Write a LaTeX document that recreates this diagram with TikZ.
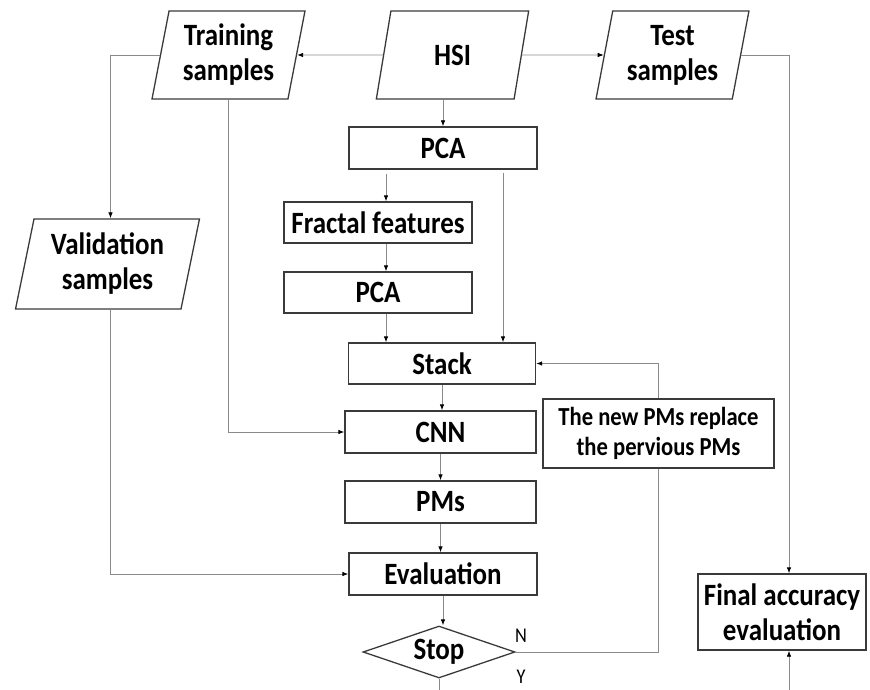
\documentclass[tikz,border=0pt]{standalone}
\usepackage{fontspec}
\setmainfont{Carlito}[FakeStretch=0.87]
\usetikzlibrary{shapes.geometric,arrows.meta}
\definecolor{boxc}{HTML}{3A3A3A}
\definecolor{linec}{HTML}{8A8A8A}
\begin{document}
\begin{tikzpicture}[x=1pt,y=-1pt,
  box/.style={draw=boxc, line width=1.3pt, rectangle, inner sep=0pt,
    font=\bfseries\fontsize{31}{35}\selectfont, align=center},
  para/.style={box, trapezium, trapezium left angle=78, trapezium right angle=102,
    trapezium stretches=true, minimum width=153pt, minimum height=88pt},
  conn/.style={draw=linec, line width=0.8pt},
  arr/.style={conn, -{Latex[length=6pt,width=4.5pt,color=black]}},
  lab/.style={inner sep=0pt, font=\fontsize{21}{22}\selectfont}
]
\useasboundingbox (0,0) rectangle (870,690);

\node[para] (train) at (228.5,55) {Training\\samples};
\node[para] (hsi) at (452.5,55) {HSI};
\node[para] (test) at (672.5,55) {Test\\samples};
\node[para, trapezium left angle=77, trapezium right angle=103,
      minimum width=184pt, minimum height=90pt] (val) at (107.5,264) {Validation\\samples};

\node[box, minimum width=188pt, minimum height=42pt] (pca1) at (443,148) {PCA};
\node[box, minimum width=188pt, minimum height=41pt] (frac) at (378,222.5) {Fractal features};
\node[box, minimum width=188pt, minimum height=41pt] (pca2) at (378,292.5) {PCA};
\node[box, minimum width=187pt, minimum height=41pt] (stack) at (442,363.5) {Stack};
\node[box, minimum width=191pt, minimum height=42pt] (cnn) at (440.5,432) {CNN};
\node[box, minimum width=191pt, minimum height=42pt] (pms) at (440.5,502) {PMs};
\node[box, minimum width=188pt, minimum height=42pt] (eval) at (443,574) {Evaluation};
\node[box, diamond, aspect=2.9, minimum width=152pt, minimum height=52pt] (stop) at (439,652) {Stop};
\node[box, minimum width=231pt, minimum height=69pt,
      font=\bfseries\fontsize{26}{30}\selectfont] (repl) at (658.5,433.5) {The new PMs replace\\the pervious PMs};
\node[box, minimum width=168pt, minimum height=76pt] (final) at (782,612) {Final accuracy\\evaluation};

\node[lab] (nlab) at (521,636) {N};
\node[lab] (ylab) at (521,677) {Y};

\coordinate (bot1) at (439,690);
\coordinate (bot2) at (789,690);

\draw[arr] (hsi.west) -- (train.east);
\draw[arr] (hsi.east) -- (test.west);
\draw[arr] (hsi.south -| pca1.north) -- (pca1.north);
\draw[arr] ([xshift=8pt,yshift=-4pt]frac.north |- pca1.south) -- ([xshift=8pt]frac.north);
\draw[arr] ([xshift=8pt]frac.south) -- ([xshift=8pt]frac.south |- pca2.north);
\draw[arr] ([xshift=8pt]pca2.south) -- ([xshift=8pt]pca2.south |- stack.north);
\draw[arr] ([xshift=60pt,yshift=-3pt]pca1.south) -- ([xshift=60pt]pca1.south |- stack.north);
\draw[arr] (stack.south) -- (stack.south |- cnn.north);
\draw[arr] (cnn.south) -- (cnn.south |- pms.north);
\draw[arr] (pms.south) -- (pms.south |- eval.north);
\draw[arr] (eval.south) -- (eval.south |- stop.north);
\draw[arr] (train.south) |- (cnn.west);
\draw[arr] (train.west) -| ([xshift=3pt]val.north);
\draw[arr] ([xshift=3pt]val.south) |- (eval.west);
\draw[arr] (test.east) -| ([xshift=7pt]final.north);
\draw[conn] (stop.east) -| (repl.south);
\draw[arr] (repl.north) |- (stack.east);
\draw[conn] (stop.south) -- (bot1);
\draw[arr] (bot2) -- ([xshift=7pt]final.south);
\end{tikzpicture}
\end{document}
